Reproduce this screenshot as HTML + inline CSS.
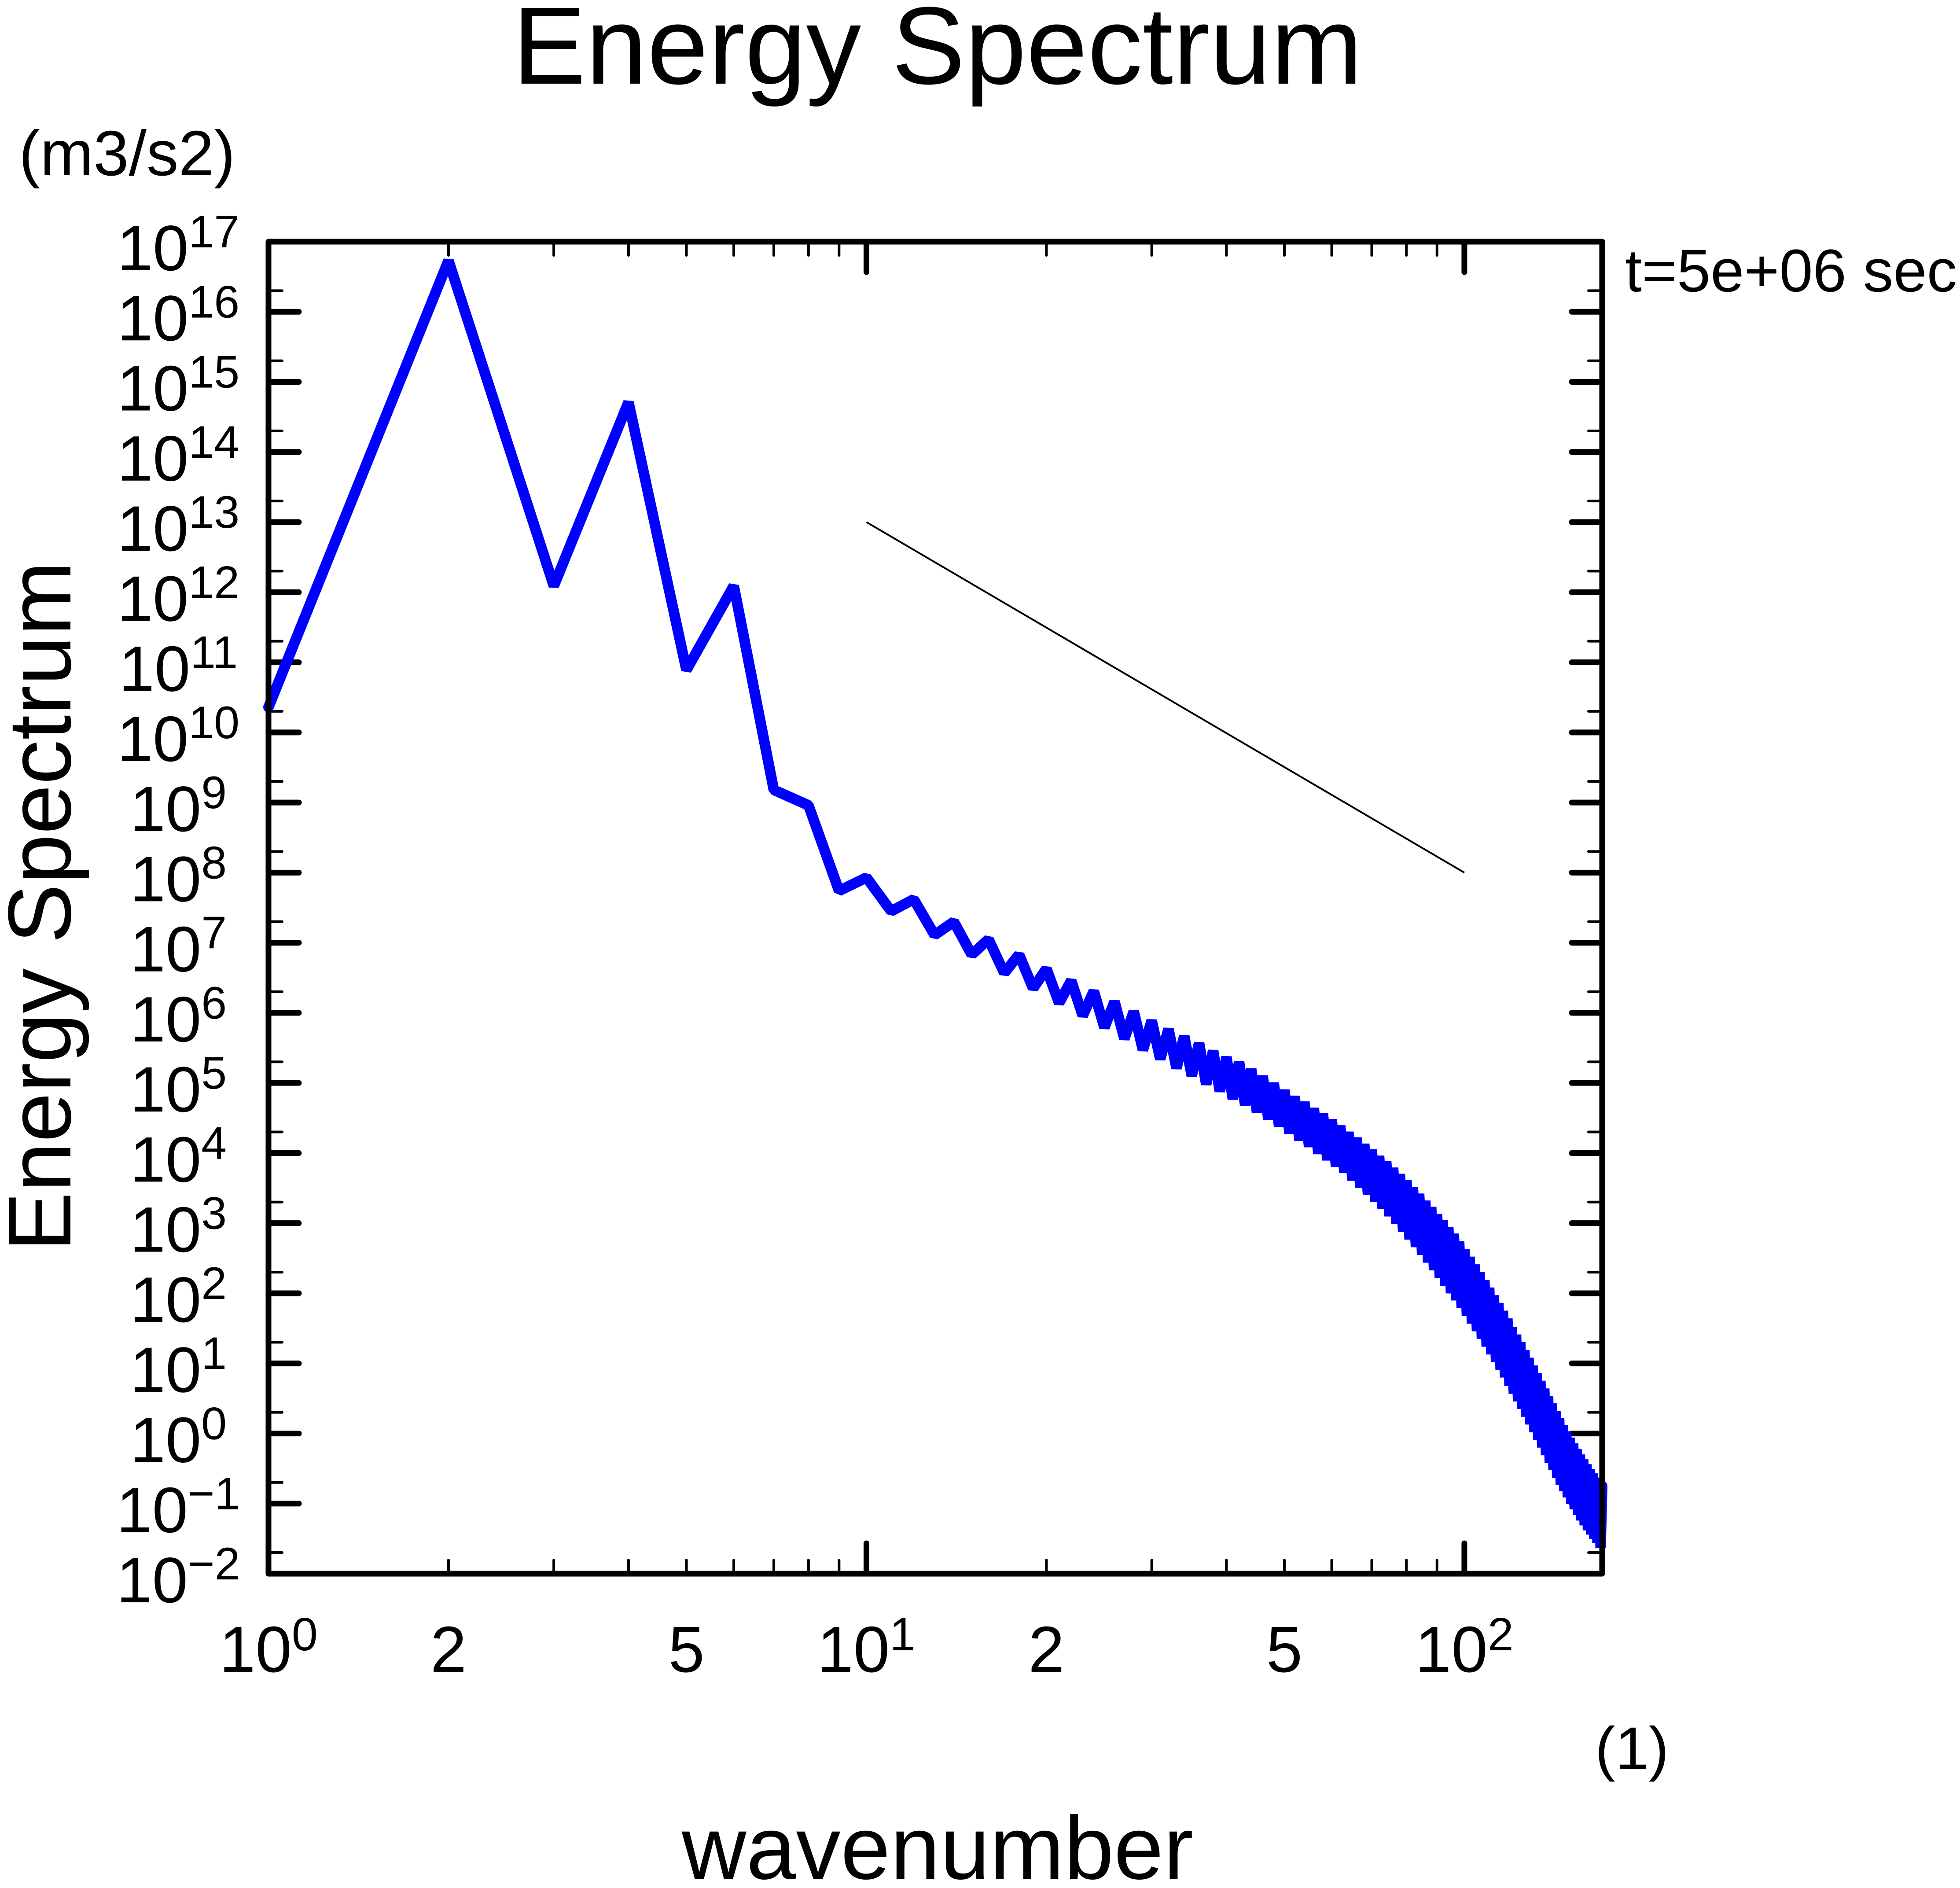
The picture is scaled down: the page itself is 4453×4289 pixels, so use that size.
<!DOCTYPE html>
<html><head><meta charset="utf-8"><style>
html,body{margin:0;padding:0;background:#fff;}
svg{display:block;font-family:"Liberation Sans",Arial,sans-serif;}
</style></head><body>
<svg id="chart" width="4453" height="4289" viewBox="0 0 4453 4289" xmlns="http://www.w3.org/2000/svg">
<rect width="4453" height="4289" fill="#fff"/>
<text x="2130" y="190" font-size="250" text-anchor="middle">Energy Spectrum</text>
<text x="43" y="398" font-size="145">(m3/s2)</text>
<text x="3692" y="662" font-size="137">t=5e+06 sec</text>
<text x="3624" y="4019" font-size="137">(1)</text>
<text x="2130" y="4268" font-size="203" text-anchor="middle">wavenumber</text>
<text transform="translate(160,2059) rotate(-90)" font-size="203" text-anchor="middle">Energy Spectrum</text>
<g id="plot"></g>
</svg>
<script>
const wavenumbers = [];
for (let k = 1; k <= 170; k++) wavenumbers.push(k);
const logEnergy = [
10.36,16.73,12.09,14.71,10.89,12.09,9.18,8.96,7.74,7.93,
7.45,7.62,7.11,7.30,6.83,7.05,6.57,6.83,6.35,6.63,
6.14,6.46,5.96,6.31,5.79,6.16,5.63,6.02,5.47,5.89,
5.34,5.77,5.21,5.67,5.10,5.57,4.98,5.46,4.88,5.37,
4.77,5.30,4.68,5.20,4.58,5.10,4.48,5.00,4.38,4.90,
4.28,4.81,4.18,4.73,4.09,4.64,3.99,4.56,3.90,4.48,
3.81,4.39,3.72,4.30,3.61,4.22,3.51,4.13,3.41,4.05,
3.31,3.96,3.21,3.88,3.10,3.79,2.99,3.70,2.88,3.61,
2.77,3.51,2.66,3.42,2.55,3.32,2.44,3.23,2.33,3.13,
2.22,3.04,2.11,2.94,2.00,2.85,1.90,2.74,1.79,2.63,
1.68,2.52,1.57,2.41,1.46,2.30,1.35,2.19,1.24,2.08,
1.13,1.97,1.02,1.86,0.91,1.75,0.80,1.64,0.68,1.52,
0.57,1.41,0.46,1.30,0.35,1.19,0.24,1.08,0.13,0.97,
0.02,0.86,-0.09,0.75,-0.20,0.64,-0.31,0.53,-0.42,0.43,
-0.52,0.32,-0.63,0.22,-0.73,0.12,-0.82,0.03,-0.91,-0.06,
-1.00,-0.14,-1.08,-0.22,-1.16,-0.30,-1.24,-0.37,-1.31,-0.44,
-1.38,-0.51,-1.44,-0.57,-1.50,-0.63,-1.56,-0.69,-1.63,-0.75
];
const refLineK = [10, 100];
const refLineLogE = [13, 8];
const yDecades = [-2,-1,0,1,2,3,4,5,6,7,8,9,10,11,12,13,14,15,16,17];
const xMajor = [1, 10, 100];
const xMinor = [2,3,4,5,6,7,8,9,20,30,40,50,60,70,80,90];
const xLabelVals = [1, 2, 5, 10, 20, 50, 100];
const xLabelBase = ["10","2","5","10","2","5","10"];
const xLabelExp = ["0","","","1","","","2"];

const L=610, R=3640, T=549, B=3575;
const xmin=0, xmax=Math.log10(170), ymin=-2, ymax=17;
const sx = k => L + (Math.log10(k)-xmin)/(xmax-xmin)*(R-L);
const sy = v => B - (v-ymin)/(ymax-ymin)*(B-T);
const NS="http://www.w3.org/2000/svg";
const g=document.getElementById('plot');
function mk(tag, attrs){const e=document.createElementNS(NS,tag);for(const a in attrs)e.setAttribute(a,attrs[a]);g.appendChild(e);return e;}

yDecades.forEach(d=>{
  const y=sy(d);
  if(d>ymin && d<ymax){
    let t=mk('line',{x1:L,y1:y,x2:L+69,y2:y,stroke:'#000','stroke-width':13,'stroke-linecap':'round'});
    
    
    t=mk('line',{x1:R,y1:y,x2:R-69,y2:y,stroke:'#000','stroke-width':13,'stroke-linecap':'round'});
    
    
  }
  if(d<ymax){
    const ym=sy(d+Math.log10(2));
    let t=mk('line',{x1:L,y1:ym,x2:L+31,y2:ym,stroke:'#000','stroke-width':6,'stroke-linecap':'round'});
    
    
    t=mk('line',{x1:R,y1:ym,x2:R-31,y2:ym,stroke:'#000','stroke-width':6,'stroke-linecap':'round'});
    
    
  }
  const lab=mk('text',{x:405,y:y+65,'font-size':146,'text-anchor':'middle'});
  
  
  const b=document.createElementNS(NS,'tspan');b.textContent='10';lab.appendChild(b);
  const s=document.createElementNS(NS,'tspan');s.setAttribute('font-size','104');s.setAttribute('dy','-52');
  s.textContent=(d<0?'\u2212'+(-d):String(d));lab.appendChild(s);
});
xMajor.forEach(k=>{
  const x=sx(k);
  if(k>1){
    let t=mk('line',{x1:x,y1:B,x2:x,y2:B-69,stroke:'#000','stroke-width':13,'stroke-linecap':'round'});
    
    
    t=mk('line',{x1:x,y1:T,x2:x,y2:T+69,stroke:'#000','stroke-width':13,'stroke-linecap':'round'});
    
    
  }
});
xMinor.forEach(k=>{
  const x=sx(k);
  let t=mk('line',{x1:x,y1:B,x2:x,y2:B-31,stroke:'#000','stroke-width':6,'stroke-linecap':'round'});
  
  
  t=mk('line',{x1:x,y1:T,x2:x,y2:T+31,stroke:'#000','stroke-width':6,'stroke-linecap':'round'});
  
  
});
xLabelVals.forEach((k,i)=>{
  const lab=mk('text',{x:sx(k),y:3798,'font-size':148,'text-anchor':'middle'});
  
  
  const b=document.createElementNS(NS,'tspan');b.textContent=xLabelBase[i];lab.appendChild(b);
  if(xLabelExp[i]){const s=document.createElementNS(NS,'tspan');s.setAttribute('font-size','106');s.setAttribute('dy','-49');s.textContent=xLabelExp[i];lab.appendChild(s);}
});

const ref=mk('line',{x1:sx(refLineK[0]),y1:sy(refLineLogE[0]),x2:sx(refLineK[1]),y2:sy(refLineLogE[1]),stroke:'#000','stroke-width':4});



let d='';
wavenumbers.forEach((k,i)=>{d+=(i?'L':'M')+sx(k).toFixed(1)+','+sy(logEnergy[i]).toFixed(1);});
const sp=mk('path',{d:d,fill:'none',stroke:'#0000ff','stroke-width':24,'stroke-linejoin':'bevel','stroke-linecap':'round'});



const fr=mk('rect',{x:L,y:T,width:R-L,height:B-T,fill:'none',stroke:'#000','stroke-width':13,'stroke-linejoin':'round'});


</script>
</body></html>
